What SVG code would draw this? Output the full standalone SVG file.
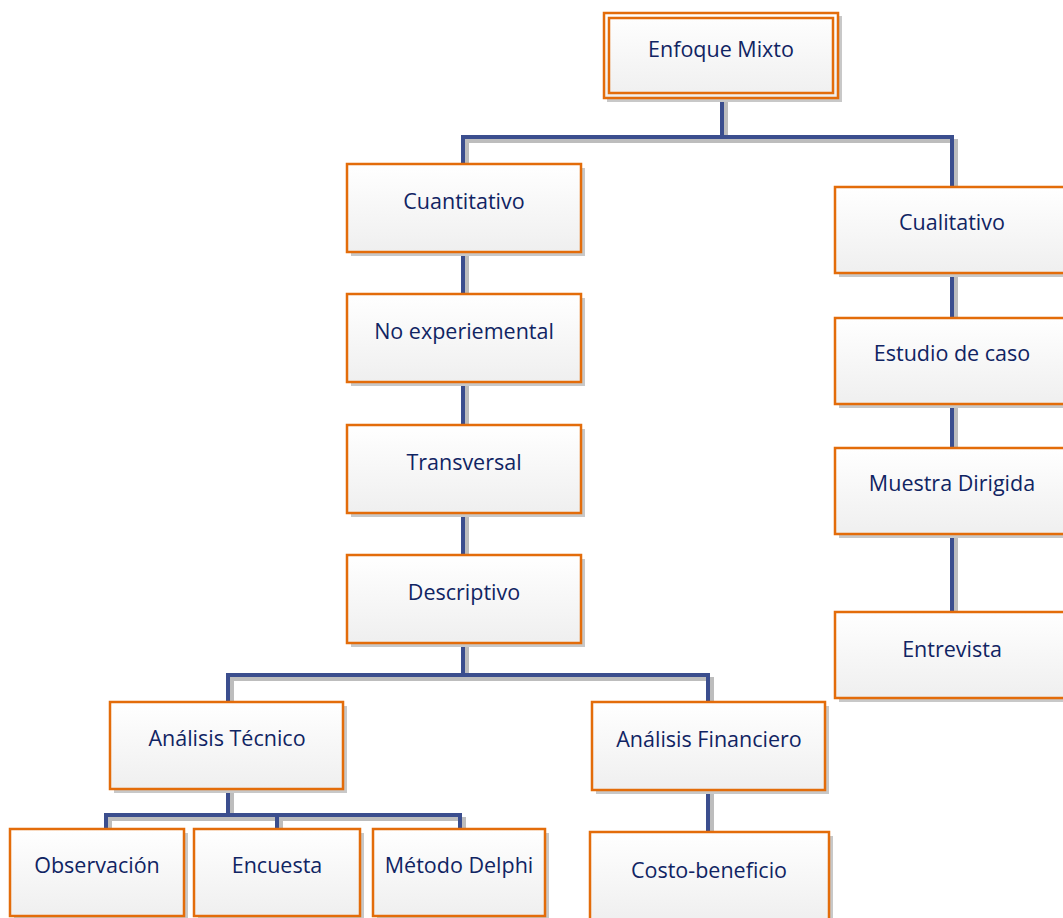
<svg xmlns="http://www.w3.org/2000/svg" width="1063" height="918" viewBox="0 0 1063 918">
<defs>
<linearGradient id="g" x1="0" y1="0" x2="0" y2="1">
<stop offset="0" stop-color="#ffffff"/>
<stop offset="1" stop-color="#efefef"/>
</linearGradient>
<style>
.sh{fill:#c8c8c8}
.bx{fill:url(#g);stroke:#E36C0A;stroke-width:2.5}
.t{font-family:"Open Sans","Noto Sans",sans-serif;font-size:21.5px;fill:#102463;text-anchor:middle}
.c{fill:none;stroke:#3B4E8E;stroke-width:4}
.cs{fill:none;stroke:#bdbdbd;stroke-width:4}
</style>
</defs>
<rect width="1063" height="918" fill="#ffffff"/>
<g id="connectors">
<path class="cs" d="M726 100V141M467 168V141H956V191M467 256V298M467 386V429M467 517V559M956 277V322M956 408V452M956 537V616M467 647V679H232V706M467 679H712V706M232 793V819H110V833M232 819H464V833M281 819V833M712 794V836"/>
<path class="c" d="M722 98V137M463 164V137H952V187M463 252V294M463 382V425M463 513V555M952 273V318M952 404V448M952 533V612M463 643V675H228V702M463 675H708V702M228 789V815H106V829M228 815H460V829M277 815V829M708 790V832"/>
</g>
<g id="n-enfoque">
<rect class="sh" x="607" y="16" width="235" height="86"/>
<rect x="604" y="13" width="234" height="85" fill="url(#g)" stroke="#E36C0A" stroke-width="2.5"/>
<rect x="609" y="18" width="224" height="75" fill="none" stroke="#E36C0A" stroke-width="2.5"/>
<text class="t" x="721" y="57">Enfoque Mixto</text>
</g>
<g id="n-cuantitativo">
<rect class="sh" x="351" y="168" width="234" height="88"/>
<rect class="bx" x="347" y="164" width="234" height="88"/>
<text class="t" x="464" y="209">Cuantitativo</text>
</g>
<g id="n-noexp">
<rect class="sh" x="351" y="298" width="234" height="88"/>
<rect class="bx" x="347" y="294" width="234" height="88"/>
<text class="t" x="464" y="339">No experiemental</text>
</g>
<g id="n-transversal">
<rect class="sh" x="351" y="429" width="234" height="88"/>
<rect class="bx" x="347" y="425" width="234" height="88"/>
<text class="t" x="464" y="470">Transversal</text>
</g>
<g id="n-descriptivo">
<rect class="sh" x="351" y="559" width="234" height="88"/>
<rect class="bx" x="347" y="555" width="234" height="88"/>
<text class="t" x="464" y="600">Descriptivo</text>
</g>
<g id="n-cualitativo">
<rect class="sh" x="839" y="191" width="240" height="86"/>
<rect class="bx" x="835" y="187" width="240" height="86"/>
<text class="t" x="952" y="230">Cualitativo</text>
</g>
<g id="n-estudio">
<rect class="sh" x="839" y="322" width="240" height="86"/>
<rect class="bx" x="835" y="318" width="240" height="86"/>
<text class="t" x="952" y="361">Estudio de caso</text>
</g>
<g id="n-muestra">
<rect class="sh" x="839" y="452" width="240" height="86"/>
<rect class="bx" x="835" y="448" width="240" height="86"/>
<text class="t" x="952" y="491">Muestra Dirigida</text>
</g>
<g id="n-entrevista">
<rect class="sh" x="839" y="616" width="240" height="86"/>
<rect class="bx" x="835" y="612" width="240" height="86"/>
<text class="t" x="952" y="657">Entrevista</text>
</g>
<g id="n-tecnico">
<rect class="sh" x="114" y="706" width="233" height="87"/>
<rect class="bx" x="110" y="702" width="233" height="87"/>
<text class="t" x="227" y="746">Análisis Técnico</text>
</g>
<g id="n-financiero">
<rect class="sh" x="596" y="706" width="233" height="88"/>
<rect class="bx" x="592" y="702" width="233" height="88"/>
<text class="t" x="709" y="747">Análisis Financiero</text>
</g>
<g id="n-observacion">
<rect class="sh" x="14" y="833" width="174" height="88"/>
<rect class="bx" x="10" y="829" width="174" height="87"/>
<text class="t" x="97" y="873">Observación</text>
</g>
<g id="n-encuesta">
<rect class="sh" x="198" y="833" width="166" height="88"/>
<rect class="bx" x="194" y="829" width="166" height="87"/>
<text class="t" x="277" y="873">Encuesta</text>
</g>
<g id="n-delphi">
<rect class="sh" x="377" y="833" width="172" height="88"/>
<rect class="bx" x="373" y="829" width="172" height="87"/>
<text class="t" x="459" y="873">Método Delphi</text>
</g>
<g id="n-costo">
<rect class="sh" x="594" y="836" width="239" height="90"/>
<rect class="bx" x="590" y="832" width="239" height="90"/>
<text class="t" x="709" y="878">Costo-beneficio</text>
</g>
</svg>
